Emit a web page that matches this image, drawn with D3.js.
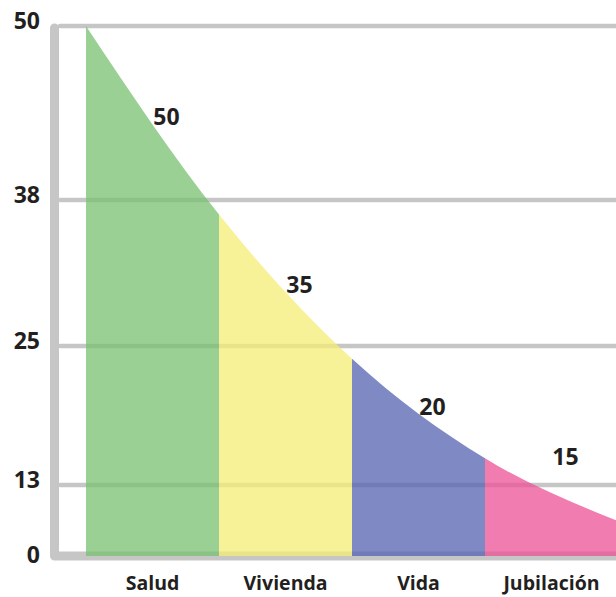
<!DOCTYPE html>
<html>
<head>
<meta charset="utf-8">
<script src="https://cdn.jsdelivr.net/npm/d3@7"></script>
<style>
  html, body { margin: 0; padding: 0; background: #ffffff; }
  svg { display: block; }
  text { font-family: "Open Sans", "DejaVu Sans", sans-serif; font-weight: 700; fill: #231f20; }
</style>
</head>
<body>
<svg id="chart" width="616" height="597"></svg>
<script>
// ---- data ----
const categories = ["Salud", "Vivienda", "Vida", "Jubilación"];
const labelValues = [50, 35, 20, 15];
// height of the curve at each band edge (left of first ... right of last)
const curveValues = [50, 36.7, 23.9, 15.3, 6.4];
const tickValues = [0, 13, 25, 38, 50];
const tickLabels = ["0", "13", "25", "38", "50"];
const colors = ["#7ac072", "#f4ec74", "#5463b0", "#eb5096"];

// ---- layout ----
const W = 616, H = 597;
const svg = d3.select("#chart");

const x = d3.scaleBand().domain(categories).range([86, 618]).paddingInner(0).paddingOuter(0);
// tick grid is unevenly spaced in the reference, so the scale is piecewise
const y = d3.scaleLinear().domain(tickValues).range([556, 485, 346, 200, 26]);

const edges = categories.map(c => x(c)).concat([x(categories[categories.length - 1]) + x.bandwidth()]);
const pts = edges.map((ex, i) => ({ x: ex, v: curveValues[i] }));

// gridlines
svg.append("g").selectAll("line")
  .data(tickValues.filter(t => t > 0))
  .join("line")
  .attr("x1", 60).attr("x2", W)
  .attr("y1", d => y(d)).attr("y2", d => y(d))
  .attr("stroke", "#c6c6c6").attr("stroke-width", 4.5).attr("stroke-linecap", "round");

// axis frame
svg.append("path")
  .attr("d", `M54.5,${y(50) + 2} V${y(0)} H${W + 10}`)
  .attr("fill", "none").attr("stroke", "#c6c6c6").attr("stroke-width", 9)
  .attr("stroke-linecap", "round").attr("stroke-linejoin", "round");

// area clipped per category
const area = d3.area().x(d => d.x).y0(y(0)).y1(d => y(d.v)).curve(d3.curveMonotoneX);
const defs = svg.append("defs");
categories.forEach((c, i) => {
  defs.append("clipPath").attr("id", "clip" + i)
    .append("rect").attr("x", x(c)).attr("y", 0).attr("width", x.bandwidth()).attr("height", H);
});
svg.append("g").selectAll("path")
  .data(categories)
  .join("path")
  .attr("d", area(pts))
  .attr("clip-path", (d, i) => `url(#clip${i})`)
  .attr("fill", (d, i) => colors[i])
  .attr("fill-opacity", 0.75);

// helper top line to find curve height at a given x
const line = d3.line().x(d => d.x).y(d => y(d.v)).curve(d3.curveMonotoneX);
const helper = svg.append("path").attr("d", line(pts)).attr("fill", "none").attr("stroke", "none");
const hNode = helper.node();
const total = hNode.getTotalLength();
function curveYAt(px) {
  let lo = 0, hi = total;
  for (let k = 0; k < 40; k++) {
    const mid = (lo + hi) / 2;
    if (hNode.getPointAtLength(mid).x < px) lo = mid; else hi = mid;
  }
  return hNode.getPointAtLength((lo + hi) / 2).y;
}

// y tick labels
svg.append("g").selectAll("text")
  .data(tickValues)
  .join("text")
  .attr("x", 40)
  .attr("y", d => y(d) + (d === 0 ? 7 : 3))
  .attr("text-anchor", "end")
  .attr("font-size", 23)
  .text((d, i) => tickLabels[i]);

// x labels
svg.append("g").selectAll("text")
  .data(categories)
  .join("text")
  .attr("x", d => x(d) + x.bandwidth() / 2)
  .attr("y", 590)
  .attr("text-anchor", "middle")
  .attr("font-size", 19.5)
  .text(d => d);

// value labels: sit at curve height over band center, lifted above a gridline if they'd collide
const gridYs = tickValues.filter(t => t > 0).map(t => y(t));
svg.append("g").selectAll("text")
  .data(categories)
  .join("text")
  .attr("x", d => x(d) + x.bandwidth() / 2 + 14)
  .attr("y", d => {
    let b = curveYAt(x(d) + x.bandwidth() / 2) + 1;
    gridYs.forEach(g => { if (g > b - 18 && g < b + 4) b = g - 20; });
    return b;
  })
  .attr("text-anchor", "middle")
  .attr("font-size", 23)
  .text((d, i) => labelValues[i]);
</script>
</body>
</html>
